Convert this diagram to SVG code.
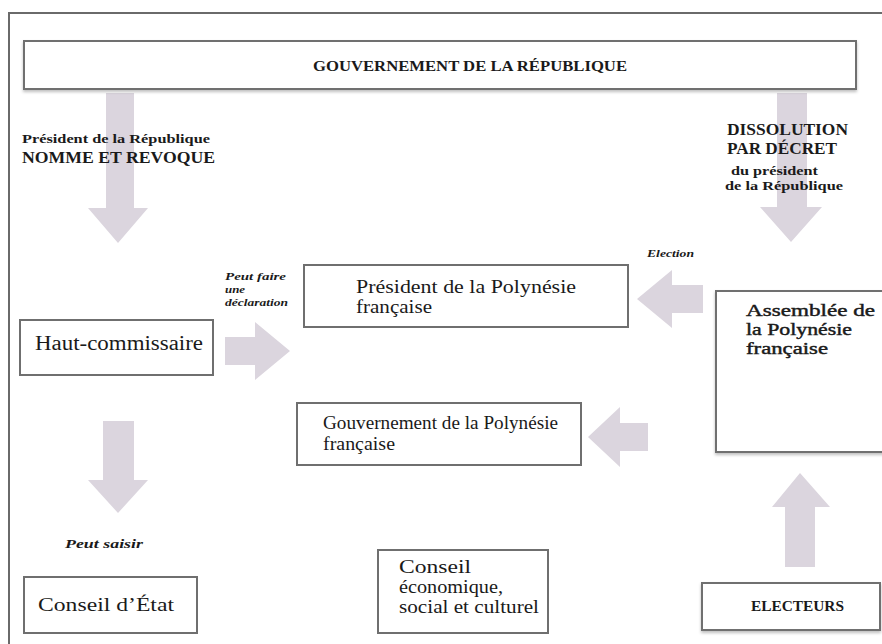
<svg xmlns="http://www.w3.org/2000/svg" width="882" height="644" viewBox="0 0 882 644">
<defs>
<filter id="sh" x="-5%" y="-20%" width="110%" height="150%">
<feDropShadow dx="0" dy="2" stdDeviation="1.5" flood-color="#000" flood-opacity="0.25"/>
</filter>
</defs>
<style>
.box{fill:#fff;stroke:#6f6f6f;stroke-width:2}
.arr{fill:#dbd5de}
.t{font-family:"Liberation Serif",serif;fill:#1a1a1a}
.b{font-weight:bold}
.i{font-style:italic;font-weight:bold}
.sb{stroke:#1a1a1a;stroke-width:0.45}
</style>
<rect x="0" y="0" width="882" height="644" fill="#fff"/>
<path d="M9 644 V13 H882" fill="none" stroke="#6a6a6a" stroke-width="2"/>

<g id="connectors">
<polygon class="arr" points="106,93 134,93 134,208 148,208 118,243 88,208 106,208"/>
<polygon class="arr" points="777,93 807,93 807,207 822,207 791,242 760,207 777,207"/>
<polygon class="arr" points="225,337 255,337 255,322 290,351 255,380 255,365 225,365"/>
<polygon class="arr" points="703,285 672,285 672,270 637,299 672,328 672,313 703,313"/>
<polygon class="arr" points="648,423 620,423 620,407 588,437 620,467 620,451 648,451"/>
<polygon class="arr" points="103,421 134,421 134,480 148,480 118,513 88,480 103,480"/>
<polygon class="arr" points="785,567 815,567 815,507 830,507 800,473 772,507 785,507"/>
<text class="t b" x="22" y="143" font-size="13" textLength="188" lengthAdjust="spacingAndGlyphs">Président de la République</text>
<text class="t b" x="22" y="163" font-size="16" textLength="193" lengthAdjust="spacingAndGlyphs">NOMME ET REVOQUE</text>
<text class="t b" x="727" y="135" font-size="16" textLength="121" lengthAdjust="spacingAndGlyphs">DISSOLUTION</text>
<text class="t b" x="727" y="154" font-size="16" textLength="110" lengthAdjust="spacingAndGlyphs">PAR DÉCRET</text>
<text class="t b" x="731" y="175" font-size="12.5" textLength="87" lengthAdjust="spacingAndGlyphs">du président</text>
<text class="t b" x="725" y="190" font-size="12.5" textLength="118" lengthAdjust="spacingAndGlyphs">de la République</text>
<text class="t i" x="225" y="280" font-size="10" textLength="61" lengthAdjust="spacingAndGlyphs">Peut faire</text>
<text class="t i" x="225" y="293" font-size="10" textLength="20" lengthAdjust="spacingAndGlyphs">une</text>
<text class="t i" x="225" y="306" font-size="10" textLength="63" lengthAdjust="spacingAndGlyphs">déclaration</text>
<text class="t i" x="647" y="257" font-size="10" textLength="47" lengthAdjust="spacingAndGlyphs">Election</text>
<text class="t i" x="65" y="548" font-size="13" textLength="78" lengthAdjust="spacingAndGlyphs">Peut saisir</text>
</g>

<g id="gouvernement-republique">
<rect class="box" x="24" y="41" width="832" height="48" filter="url(#sh)"/>
<text class="t b" x="470" y="71" font-size="14.5" text-anchor="middle" textLength="314" lengthAdjust="spacingAndGlyphs">GOUVERNEMENT DE LA RÉPUBLIQUE</text>
</g>

<g id="haut-commissaire">
<rect class="box" x="20" y="320" width="193" height="55"/>
<text class="t" x="35" y="350" font-size="20" textLength="168" lengthAdjust="spacingAndGlyphs">Haut-commissaire</text>
</g>

<g id="president-polynesie">
<rect class="box" x="304" y="265" width="324" height="62"/>
<text class="t" x="356" y="293" font-size="18.5" textLength="220" lengthAdjust="spacingAndGlyphs">Président de la Polynésie</text>
<text class="t" x="356" y="313" font-size="18.5" textLength="76" lengthAdjust="spacingAndGlyphs">française</text>
</g>

<g id="gouvernement-polynesie">
<rect class="box" x="297" y="403" width="284" height="62"/>
<text class="t" x="323" y="429" font-size="18.5" textLength="235" lengthAdjust="spacingAndGlyphs">Gouvernement de la Polynésie</text>
<text class="t" x="323" y="450" font-size="18.5" textLength="72" lengthAdjust="spacingAndGlyphs">française</text>
</g>

<g id="assemblee">
<rect class="box" x="716" y="291" width="180" height="161" filter="url(#sh)"/>
<text class="t sb" x="746" y="316" font-size="17.5" textLength="129" lengthAdjust="spacingAndGlyphs">Assemblée de</text>
<text class="t sb" x="746" y="335" font-size="17.5" textLength="106" lengthAdjust="spacingAndGlyphs">la Polynésie</text>
<text class="t sb" x="746" y="354" font-size="17.5" textLength="82" lengthAdjust="spacingAndGlyphs">française</text>
</g>

<g id="conseil-etat">
<rect class="box" x="24" y="577" width="173" height="56"/>
<text class="t" x="38" y="611" font-size="18.5" textLength="136" lengthAdjust="spacingAndGlyphs">Conseil d’État</text>
</g>

<g id="cesc">
<rect class="box" x="378" y="550" width="170" height="83"/>
<text class="t" x="399" y="573" font-size="18" textLength="72" lengthAdjust="spacingAndGlyphs">Conseil</text>
<text class="t" x="399" y="593" font-size="18" textLength="104" lengthAdjust="spacingAndGlyphs">économique,</text>
<text class="t" x="399" y="613" font-size="18" textLength="140" lengthAdjust="spacingAndGlyphs">social et culturel</text>
</g>

<g id="electeurs">
<rect class="box" x="702" y="583" width="178" height="47" filter="url(#sh)"/>
<text class="t b" x="751" y="611" font-size="14" textLength="93" lengthAdjust="spacingAndGlyphs">ELECTEURS</text>
</g>
</svg>
